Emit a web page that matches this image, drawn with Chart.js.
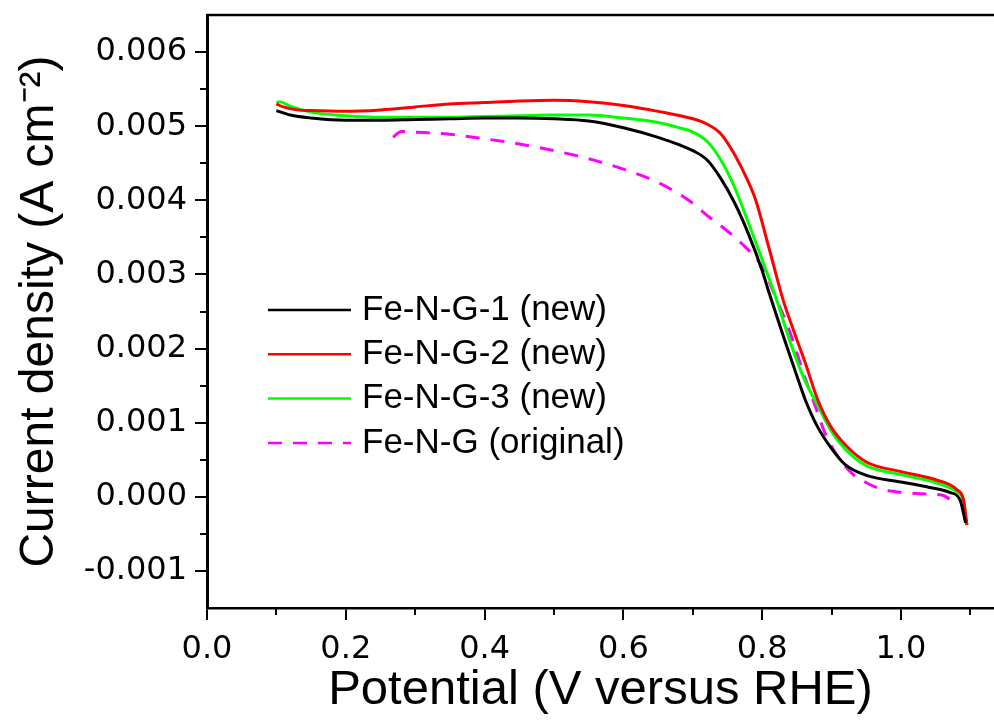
<!DOCTYPE html>
<html>
<head>
  <meta charset="utf-8" />
  <title>Current density vs potential</title>
  <style>
    body { margin: 0; background: #fff; }
    #wrap { width: 994px; height: 724px; }
  </style>
</head>
<body>
  <div id="wrap"><canvas id="stage"></canvas></div>

  <script src="https://cdn.jsdelivr.net/npm/chart.js@4.4.1/dist/chart.umd.min.js"></script>
  <script>
    // 読み取った値 (V versus RHE, A cm-2)
    const xTicks = [0.0, 0.2, 0.4, 0.6, 0.8, 1.0];
    const yTicks = [-0.001, 0.000, 0.001, 0.002, 0.003, 0.004, 0.005, 0.006];

    const labels = ['Fe-N-G-1 (new)', 'Fe-N-G-2 (new)', 'Fe-N-G-3 (new)', 'Fe-N-G (original)'];

    const v1 = [0.10, 0.12, 0.15, 0.20, 0.25, 0.30, 0.35, 0.40, 0.45, 0.50, 0.55, 0.60, 0.65, 0.68, 0.70, 0.72, 0.74, 0.76, 0.78, 0.80, 0.81, 0.83, 0.85, 0.862, 0.88, 0.90, 0.92, 0.95, 1.00, 1.04, 1.07, 1.085, 1.093];
    const j1 = [0.00521, 0.00515, 0.00511, 0.00508, 0.00508, 0.00509, 0.00510, 0.00511, 0.00511, 0.00510, 0.00507, 0.00498, 0.00485, 0.00475, 0.00467, 0.00455, 0.00430, 0.00397, 0.00355, 0.00305, 0.00275, 0.00218, 0.00163, 0.00131, 0.00094, 0.00065, 0.00043, 0.00029, 0.00020, 0.00013, 0.00006, -0.00004, -0.00035];

    const v2 = [0.10, 0.11, 0.13, 0.15, 0.20, 0.25, 0.30, 0.35, 0.40, 0.45, 0.50, 0.55, 0.60, 0.65, 0.70, 0.72, 0.74, 0.76, 0.78, 0.79, 0.81, 0.83, 0.85, 0.862, 0.88, 0.90, 0.92, 0.95, 1.00, 1.05, 1.08, 1.09, 1.095];
    const j2 = [0.00530, 0.00526, 0.00522, 0.00521, 0.00520, 0.00522, 0.00526, 0.00530, 0.00532, 0.00534, 0.00535, 0.00533, 0.00528, 0.00520, 0.00510, 0.00503, 0.00490, 0.00462, 0.00425, 0.00402, 0.00335, 0.00266, 0.00212, 0.00181, 0.00131, 0.00093, 0.00070, 0.00047, 0.00034, 0.00023, 0.00010, -0.00004, -0.00038];

    const v3 = [0.10, 0.105, 0.12, 0.15, 0.20, 0.25, 0.30, 0.35, 0.40, 0.45, 0.50, 0.55, 0.60, 0.65, 0.68, 0.70, 0.72, 0.74, 0.76, 0.78, 0.80, 0.82, 0.84, 0.86, 0.88, 0.90, 0.92, 0.95, 1.00, 1.05, 1.08, 1.09, 1.095];
    const j3 = [0.00532, 0.00533, 0.00527, 0.00519, 0.00514, 0.00512, 0.00512, 0.00512, 0.00513, 0.00514, 0.00515, 0.00515, 0.00511, 0.00505, 0.00498, 0.00492, 0.00480, 0.00455, 0.00418, 0.00370, 0.00320, 0.00268, 0.00210, 0.00160, 0.00123, 0.00088, 0.00064, 0.00042, 0.00030, 0.00019, 0.00007, -0.00005, -0.00038];

    const v4 = [0.268, 0.28, 0.30, 0.35, 0.40, 0.45, 0.50, 0.55, 0.60, 0.65, 0.70, 0.72, 0.74, 0.77, 0.80, 0.82, 0.84, 0.86, 0.88, 0.89, 0.91, 0.93, 0.95, 0.97, 1.00, 1.03, 1.06, 1.07];
    const j4 = [0.00485, 0.00493, 0.00492, 0.00489, 0.00483, 0.00476, 0.00467, 0.00456, 0.00442, 0.00424, 0.00396, 0.00380, 0.00366, 0.00342, 0.00310, 0.00268, 0.00222, 0.00165, 0.00113, 0.00087, 0.00053, 0.00031, 0.00019, 0.00011, 0.00006, 0.00004, 0.00002, -0.00003];

    const pts = (xs, ys) => xs.map((x, i) => ({ x: x, y: ys[i] }));

    // 図の中の凡例と副目盛りを描く
    const extras = {
      id: 'extras',
      afterDraw(chart) {
        const ctx = chart.ctx;
        const a = chart.chartArea;
        const sx = chart.scales.x, sy = chart.scales.y;
        ctx.save();
        ctx.strokeStyle = '#000';
        // 上の枠線
        ctx.lineWidth = 2.5;
        ctx.beginPath();
        ctx.moveTo(a.left, a.top);
        ctx.lineTo(a.right, a.top);
        ctx.stroke();
        // 副目盛り
        ctx.lineWidth = 2;
        ctx.beginPath();
        for (let v = 0.1; v < sx.max; v += 0.2) {
          const px = Math.round(sx.getPixelForValue(v));
          ctx.moveTo(px, a.bottom);
          ctx.lineTo(px, a.bottom + 7);
        }
        for (let v = -0.0005; v < sy.max; v += 0.001) {
          const py = Math.round(sy.getPixelForValue(v));
          ctx.moveTo(a.left, py);
          ctx.lineTo(a.left - 7, py);
        }
        ctx.stroke();
        // 凡例
        ctx.font = '35px "Liberation Sans", Arial, sans-serif';
        ctx.textBaseline = 'middle';
        ctx.fillStyle = '#000';
        chart.data.datasets.forEach((ds, i) => {
          const y = a.top + 295 + i * 44.3;
          const x0 = a.left + 61;
          ctx.strokeStyle = ds.borderColor;
          ctx.lineWidth = 2.5;
          ctx.setLineDash(ds.borderDash || []);
          ctx.beginPath();
          ctx.moveTo(x0, y);
          ctx.lineTo(x0 + 83, y);
          ctx.stroke();
          ctx.setLineDash([]);
          ctx.fillText(ds.label, x0 + 94, y);
        });
        ctx.restore();
      }
    };

    new Chart(document.getElementById('stage'), {
      type: 'line',
      data: {
        datasets: [{
          label: labels[0],
          data: pts(v1, j1),
          borderColor: '#000000',
        }, {
          label: labels[1],
          data: pts(v2, j2),
          borderColor: '#ff0000',
        }, {
          label: labels[2],
          data: pts(v3, j3),
          borderColor: '#00ff00',
        }, {
          label: labels[3],
          data: pts(v4, j4),
          borderColor: '#ff00ff',
          borderDash: [14, 11],
        }]
      },
      options: {
        responsive: true,
        maintainAspectRatio: false,
        animation: false,
        layout: { padding: { top: 15, right: 0, bottom: 0, left: 0 } },
        elements: {
          point: { radius: 0 },
          line: { borderWidth: 3, cubicInterpolationMode: 'monotone', fill: false }
        },
        plugins: {
          legend: { display: false },
          tooltip: { enabled: false }
        },
        scales: {
          x: {
            type: 'linear',
            min: 0,
            max: 1.134,
            afterBuildTicks: s => { s.ticks = xTicks.map(v => ({ value: v })); },
            afterFit: s => { s.height = 116; s.paddingLeft = 0; s.paddingRight = 0; },
            grid: { drawOnChartArea: false, drawTicks: true, tickLength: 12, color: '#000', lineWidth: 2 },
            border: { display: true, color: '#000', width: 2.5 },
            ticks: {
              color: '#000',
              padding: 10,
              maxRotation: 0,
              font: { family: '"DejaVu Sans"', size: 32 },
              callback: v => Number(v).toFixed(1)
            },
            title: {
              display: true,
              text: 'Potential (V versus RHE)',
              color: '#000',
              font: { family: '"Liberation Sans", Arial, sans-serif', size: 49 },
              padding: { top: 0, bottom: 4 }
            }
          },
          y: {
            min: -0.0015,
            max: 0.0065,
            afterBuildTicks: s => { s.ticks = yTicks.map(v => ({ value: v })); },
            afterFit: s => { s.width = 207; s.paddingTop = 0; s.paddingBottom = 0; },
            grid: { drawOnChartArea: false, drawTicks: true, tickLength: 12, color: '#000', lineWidth: 2 },
            border: { display: true, color: '#000', width: 3 },
            ticks: {
              color: '#000',
              padding: 8,
              font: { family: '"DejaVu Sans"', size: 32 },
              callback: v => Number(v).toFixed(3)
            },
            title: {
              display: true,
              text: 'Current density (A cm⁻²)',
              color: '#000',
              font: { family: '"Liberation Sans", Arial, sans-serif', size: 48 },
              padding: { top: 11, bottom: 0 }
            }
          }
        }
      },
      plugins: [extras]
    });
  </script>
</body>
</html>
